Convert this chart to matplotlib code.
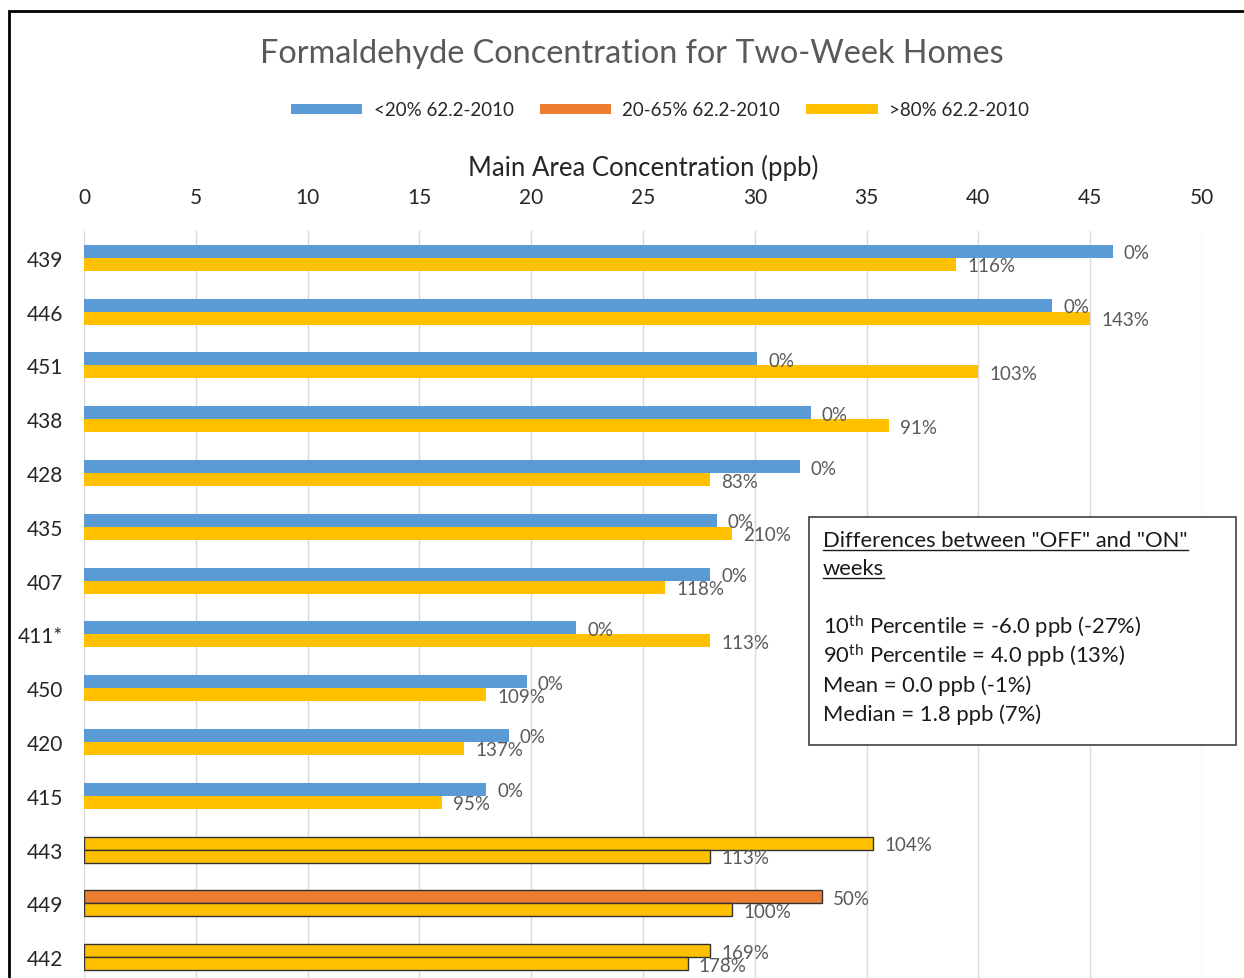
import matplotlib
matplotlib.use("Agg")
import matplotlib.pyplot as plt
import numpy as np
from matplotlib.patches import Patch, Rectangle
from matplotlib.lines import Line2D

homes = ["439", "446", "451", "438", "428", "435", "407", "411*", "450", "420", "415", "443", "449", "442"]
off_ppb = [46.0, 43.3, 30.1, 32.5, 32.0, 28.3, 28.0, 22.0, 19.8, 19.0, 18.0, 35.3, 33.0, 28.0]
on_ppb = [39.0, 45.0, 40.0, 36.0, 28.0, 29.0, 26.0, 28.0, 18.0, 17.0, 16.0, 28.0, 29.0, 27.0]
off_labels = ["0%"] * 11 + ["104%", "50%", "169%"]
on_labels = ["116%", "143%", "103%", "91%", "83%", "210%", "118%", "113%", "109%", "137%", "95%", "113%", "100%", "178%"]
off_class = ["<20% 62.2-2010"] * 11 + [">80% 62.2-2010", "20-65% 62.2-2010", ">80% 62.2-2010"]
outlined = [False] * 11 + [True] * 3
classes = ["<20% 62.2-2010", "20-65% 62.2-2010", ">80% 62.2-2010"]
class_colors = {"<20% 62.2-2010": "#5B9BD5", "20-65% 62.2-2010": "#ED7D31", ">80% 62.2-2010": "#FFC000"}
box_lines = [
    r"10$^{\mathrm{th}}$ Percentile = -6.0 ppb (-27%)",
    r"90$^{\mathrm{th}}$ Percentile = 4.0 ppb (13%)",
    "Mean = 0.0 ppb (-1%)",
    "Median = 1.8 ppb (7%)",
]

plt.rcParams["font.family"] = ["Lato", "DejaVu Sans"]
plt.rcParams["mathtext.fontset"] = "custom"
plt.rcParams["mathtext.rm"] = "Lato"
plt.rcParams["mathtext.default"] = "regular"

W, H = 1244, 979
fig = plt.figure(figsize=(W / 100, H / 100), dpi=100)


def fx(px):
    return px / W


def fy(py):
    return 1 - py / H


ax = fig.add_axes([fx(84), fy(985), fx(1202) - fx(84), fy(232) - fy(985)])

y = np.arange(len(homes))
bh = 0.242
off_colors = [class_colors[c] for c in off_class]
edges = ["#333333" if o else "none" for o in outlined]
lw = [1.0 if o else 0 for o in outlined]

b_off = ax.barh(y - bh / 2, off_ppb, height=bh, color=off_colors, edgecolor=edges, linewidth=lw, zorder=3)
b_on = ax.barh(y + bh / 2, on_ppb, height=bh, color=class_colors[">80% 62.2-2010"], edgecolor=edges, linewidth=lw, zorder=3)
for t in ax.bar_label(b_off, labels=off_labels, padding=8, fontsize=13.5, color="#595959"):
    t.set_va("center_baseline")
for t in ax.bar_label(b_on, labels=on_labels, padding=8, fontsize=13.5, color="#595959"):
    t.set_va("center_baseline")

ax.set_xlim(0, 50)
ax.set_ylim(len(homes) - 0.5, -0.5)
ax.set_xticks(np.arange(0, 51, 5))
ax.set_yticks(y)
ax.set_yticklabels(homes)
ax.xaxis.tick_top()
ax.xaxis.set_label_position("top")
ax.tick_params(axis="x", length=0, pad=17, labelsize=15, labelcolor="#262626")
ax.tick_params(axis="y", length=0, pad=15, labelsize=15, labelcolor="#262626")
ax.grid(axis="x", color="#D9D9D9", linewidth=1, zorder=0)
for s in ax.spines.values():
    s.set_visible(False)
ax.set_xlabel("Main Area Concentration (ppb)", fontsize=18.5, color="#262626", labelpad=9)

fig.text(fx(632), fy(51), "Formaldehyde Concentration for Two-Week Homes", fontsize=23.3,
         color="#595959", ha="center", va="center_baseline")

handles = [Patch(facecolor=class_colors[c], edgecolor="none") for c in classes]
fig.legend(handles, classes, loc="center", bbox_to_anchor=(fx(660), fy(111)), ncol=3, frameon=False,
           fontsize=13.5, handlelength=3.8, handleheight=0.4, handletextpad=0.6, columnspacing=1.4,
           labelcolor="#262626")

# chart border (cut at right and bottom, as in the source)
fig.add_artist(Rectangle((fx(9), fy(1100)), 2, fy(12) - fy(1100), transform=fig.transFigure,
                         fill=False, edgecolor="black", linewidth=2))

# stats text box
fig.add_artist(Rectangle((fx(809), fy(746)), fx(1236) - fx(809), fy(518) - fy(746),
                         transform=fig.transFigure, facecolor="white", edgecolor="#404040",
                         linewidth=1.2, zorder=5))
heads = ["Differences between \"OFF\" and \"ON\"", "weeks"]
head_texts = []
for txt, by in zip(heads, [547, 575]):
    t = fig.text(fx(823), fy(by), txt, fontsize=15.8, color="#1a1a1a", ha="left", va="baseline", zorder=6)
    head_texts.append(t)
for txt, by in zip(box_lines, [634, 663, 692, 721]):
    fig.text(fx(823), fy(by), txt, fontsize=15.8, color="#1a1a1a", ha="left", va="baseline", zorder=6)

fig.canvas.draw()
renderer = fig.canvas.get_renderer()
for t, by in zip(head_texts, [547, 575]):
    bb = t.get_window_extent(renderer)
    uy = fy(by + 4)
    fig.add_artist(Line2D([bb.x0 / W, bb.x1 / W], [uy, uy], transform=fig.transFigure,
                          color="#1a1a1a", linewidth=1.0, zorder=6))

fig.savefig("out.png", dpi=100)
